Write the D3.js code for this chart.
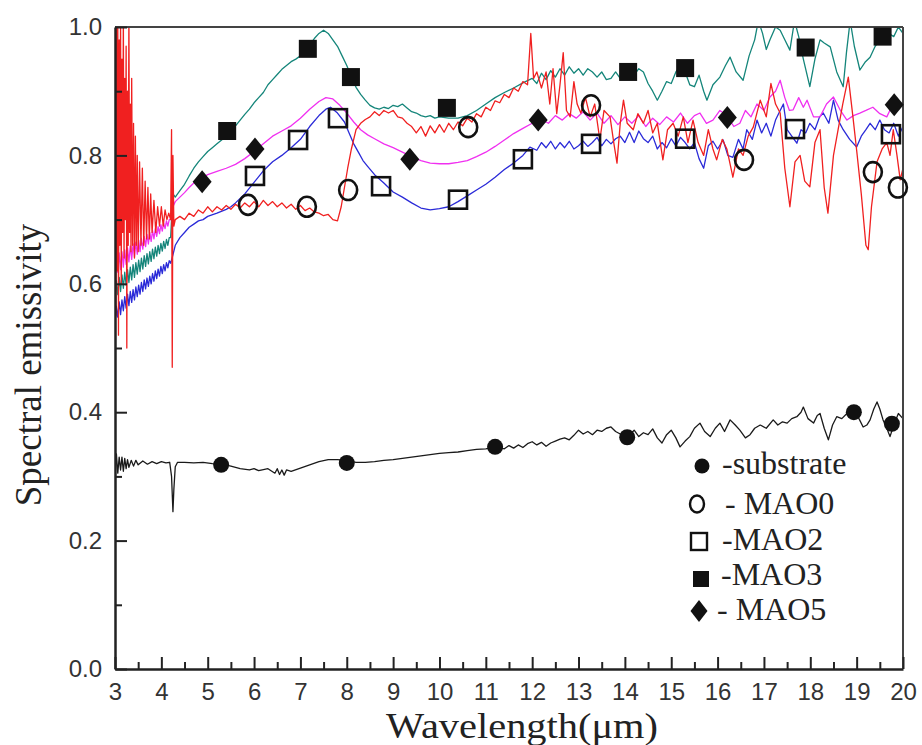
<!DOCTYPE html>
<html><head><meta charset="utf-8">
<script src="https://cdn.jsdelivr.net/npm/d3@7"></script>
<style>body{margin:0;background:#fff;} svg{display:block;}</style>
</head><body>
<svg id="chart" width="922" height="745"></svg>
<script>
// ---------- data ----------
const xTicks = [3,4,5,6,7,8,9,10,11,12,13,14,15,16,17,18,19,20];
const xMinorTicks = [3.5,4.5,5.5,6.5,7.5,8.5,9.5,10.5,11.5,12.5,13.5,14.5,15.5,16.5,17.5,18.5,19.5];
const yTicks = [0.0,0.2,0.4,0.6,0.8,1.0];
const yMinorTicks = [0.1,0.3,0.5,0.7,0.9];
const legendLabels = ["-substrate","- MAO0","-MAO2","-MAO3","- MAO5"];

const substrateCurve = [[3.00,0.30],[3.03,0.335],[3.06,0.305],[3.09,0.33],[3.12,0.31],[3.15,0.33],[3.18,0.308],[3.21,0.328],[3.24,0.312],[3.27,0.326],[3.30,0.314],[3.35,0.325],[3.40,0.316],[3.45,0.325],[3.50,0.318],[3.60,0.324],[3.70,0.319],[3.80,0.323],[3.90,0.320],[4.00,0.323],[4.10,0.321],[4.18,0.322],[4.22,0.30],[4.25,0.245],[4.27,0.28],[4.30,0.315],[4.35,0.322],[4.50,0.322],[4.70,0.321],[4.90,0.322],[5.10,0.320],[5.30,0.319],[5.50,0.316],[5.70,0.312],[5.90,0.310],[6.00,0.312],[6.10,0.309],[6.30,0.312],[6.45,0.305],[6.50,0.312],[6.55,0.303],[6.60,0.310],[6.65,0.302],[6.70,0.310],[6.80,0.308],[7.00,0.313],[7.20,0.318],[7.40,0.323],[7.60,0.326],[7.80,0.326],[8.00,0.325],[8.20,0.322],[8.40,0.322],[8.60,0.323],[8.80,0.325],[9.00,0.326],[9.20,0.328],[9.40,0.330],[9.60,0.332],[9.80,0.334],[10.0,0.336],[10.2,0.337],[10.4,0.338],[10.6,0.340],[10.8,0.342],[11.0,0.343],[11.2,0.346],[11.4,0.343],[11.5,0.348],[11.6,0.344],[11.7,0.349],[11.8,0.345],[11.9,0.351],[12.0,0.354],[12.1,0.349],[12.2,0.353],[12.3,0.347],[12.4,0.352],[12.5,0.355],[12.6,0.358],[12.7,0.360],[12.8,0.357],[12.9,0.364],[13.0,0.372],[13.1,0.366],[13.2,0.370],[13.3,0.365],[13.4,0.372],[13.5,0.370],[13.6,0.375],[13.7,0.377],[13.8,0.370],[13.9,0.366],[14.05,0.361],[14.2,0.372],[14.3,0.362],[14.4,0.368],[14.5,0.365],[14.6,0.374],[14.7,0.360],[14.8,0.352],[14.9,0.365],[15.0,0.372],[15.1,0.360],[15.19,0.346],[15.3,0.355],[15.4,0.362],[15.5,0.375],[15.62,0.383],[15.72,0.370],[15.84,0.362],[15.95,0.375],[16.05,0.383],[16.15,0.370],[16.27,0.388],[16.38,0.380],[16.48,0.372],[16.6,0.360],[16.7,0.365],[16.8,0.375],[16.92,0.380],[17.05,0.375],[17.2,0.388],[17.3,0.380],[17.4,0.385],[17.5,0.383],[17.6,0.390],[17.71,0.393],[17.8,0.400],[17.85,0.408],[17.95,0.390],[18.07,0.383],[18.15,0.395],[18.21,0.398],[18.3,0.375],[18.39,0.357],[18.48,0.380],[18.57,0.393],[18.68,0.390],[18.79,0.398],[18.94,0.400],[19.05,0.390],[19.14,0.377],[19.22,0.380],[19.29,0.388],[19.37,0.405],[19.44,0.416],[19.5,0.405],[19.57,0.388],[19.65,0.375],[19.72,0.362],[19.8,0.380],[19.9,0.398],[20.0,0.390]];

const mao0Curve = [[3.00,0.45],[3.01,1.02],[3.02,0.55],[3.03,1.02],[3.045,0.62],[3.06,1.02],[3.075,0.52],[3.09,0.98],[3.105,0.66],[3.12,1.02],[3.135,0.60],[3.15,0.95],[3.165,0.68],[3.18,1.02],[3.195,0.64],[3.21,0.92],[3.225,0.70],[3.24,0.97],[3.255,0.50],[3.27,0.90],[3.285,0.66],[3.30,1.02],[3.315,0.68],[3.33,0.88],[3.345,0.65],[3.36,0.92],[3.38,0.66],[3.40,0.85],[3.42,0.64],[3.44,0.83],[3.46,0.66],[3.48,0.80],[3.50,0.65],[3.53,0.79],[3.56,0.66],[3.59,0.78],[3.62,0.66],[3.65,0.76],[3.68,0.67],[3.71,0.75],[3.74,0.67],[3.77,0.74],[3.80,0.68],[3.84,0.73],[3.88,0.68],[3.92,0.72],[3.96,0.69],[4.00,0.72],[4.04,0.69],[4.08,0.715],[4.12,0.70],[4.16,0.71],[4.20,0.70],[4.22,0.84],[4.235,0.47],[4.25,0.80],[4.27,0.69],[4.30,0.70],[4.4,0.705],[4.5,0.70],[4.6,0.71],[4.7,0.705],[4.8,0.715],[4.9,0.71],[5.0,0.72],[5.1,0.712],[5.2,0.72],[5.3,0.715],[5.4,0.722],[5.5,0.716],[5.6,0.724],[5.7,0.718],[5.8,0.726],[5.9,0.72],[6.0,0.728],[6.1,0.72],[6.2,0.73],[6.3,0.722],[6.4,0.728],[6.5,0.72],[6.6,0.726],[6.7,0.718],[6.8,0.724],[6.9,0.716],[7.0,0.722],[7.1,0.714],[7.2,0.718],[7.3,0.712],[7.4,0.71],[7.5,0.706],[7.6,0.708],[7.7,0.70],[7.8,0.698],[7.88,0.72],[7.95,0.75],[8.02,0.78],[8.1,0.81],[8.2,0.84],[8.3,0.85],[8.4,0.856],[8.5,0.86],[8.6,0.868],[8.7,0.862],[8.8,0.87],[8.9,0.866],[9.0,0.87],[9.1,0.86],[9.2,0.858],[9.3,0.85],[9.4,0.845],[9.5,0.835],[9.6,0.845],[9.7,0.83],[9.8,0.846],[9.9,0.835],[10.0,0.848],[10.1,0.836],[10.2,0.85],[10.3,0.84],[10.4,0.852],[10.5,0.846],[10.6,0.858],[10.7,0.852],[10.8,0.865],[10.9,0.86],[11.0,0.875],[11.1,0.87],[11.2,0.885],[11.3,0.882],[11.4,0.895],[11.5,0.89],[11.6,0.905],[11.7,0.90],[11.8,0.915],[11.9,0.91],[11.97,0.99],[12.03,0.92],[12.1,0.93],[12.2,0.905],[12.3,0.93],[12.38,0.88],[12.45,0.935],[12.53,0.865],[12.6,0.91],[12.67,0.96],[12.74,0.87],[12.82,0.86],[12.9,0.915],[12.97,0.88],[13.05,0.866],[13.15,0.89],[13.25,0.86],[13.35,0.88],[13.46,0.824],[13.55,0.87],[13.68,0.86],[13.76,0.82],[13.83,0.788],[13.9,0.85],[13.97,0.886],[14.05,0.85],[14.18,0.84],[14.28,0.865],[14.4,0.85],[14.5,0.87],[14.6,0.835],[14.7,0.85],[14.82,0.793],[14.92,0.84],[15.04,0.85],[15.15,0.83],[15.26,0.86],[15.36,0.82],[15.47,0.855],[15.58,0.82],[15.7,0.80],[15.8,0.84],[15.9,0.81],[15.98,0.793],[16.1,0.825],[16.2,0.81],[16.33,0.766],[16.45,0.81],[16.55,0.80],[16.66,0.83],[16.77,0.844],[16.92,0.886],[17.05,0.86],[17.15,0.912],[17.25,0.88],[17.35,0.866],[17.45,0.78],[17.56,0.72],[17.67,0.79],[17.78,0.80],[17.88,0.76],[17.99,0.751],[18.1,0.82],[18.21,0.84],[18.3,0.75],[18.38,0.71],[18.5,0.80],[18.6,0.84],[18.7,0.88],[18.82,0.922],[18.92,0.86],[19.0,0.808],[19.1,0.74],[19.2,0.66],[19.25,0.653],[19.32,0.72],[19.44,0.79],[19.55,0.81],[19.65,0.82],[19.72,0.80],[19.79,0.84],[19.87,0.80],[19.94,0.762],[20.0,0.78]];

const mao2Curve = [[3.00,0.540],[3.03,0.565],[3.06,0.548],[3.09,0.572],[3.12,0.552],[3.15,0.575],[3.18,0.558],[3.21,0.58],[3.24,0.562],[3.27,0.584],[3.30,0.566],[3.33,0.588],[3.36,0.571],[3.39,0.591],[3.42,0.575],[3.45,0.595],[3.48,0.58],[3.51,0.598],[3.54,0.584],[3.57,0.602],[3.60,0.588],[3.63,0.606],[3.66,0.592],[3.69,0.609],[3.72,0.596],[3.75,0.612],[3.78,0.60],[3.81,0.616],[3.84,0.604],[3.87,0.62],[3.90,0.608],[3.93,0.623],[3.96,0.612],[3.99,0.627],[4.02,0.616],[4.05,0.63],[4.08,0.62],[4.11,0.633],[4.14,0.625],[4.17,0.636],[4.20,0.632],[4.25,0.645],[4.30,0.66],[4.4,0.672],[4.5,0.68],[4.6,0.688],[4.7,0.693],[4.8,0.698],[4.9,0.70],[5.0,0.705],[5.2,0.71],[5.4,0.716],[5.5,0.72],[5.6,0.726],[5.8,0.74],[6.0,0.758],[6.2,0.776],[6.4,0.79],[6.6,0.80],[6.8,0.812],[7.0,0.825],[7.2,0.845],[7.4,0.862],[7.55,0.872],[7.65,0.875],[7.8,0.866],[7.95,0.852],[8.05,0.835],[8.15,0.818],[8.25,0.805],[8.35,0.792],[8.45,0.783],[8.6,0.77],[8.8,0.757],[9.0,0.743],[9.2,0.735],[9.4,0.726],[9.6,0.718],[9.8,0.715],[10.0,0.717],[10.2,0.72],[10.4,0.728],[10.6,0.737],[10.8,0.746],[11.0,0.755],[11.2,0.766],[11.4,0.778],[11.6,0.788],[11.8,0.80],[11.95,0.813],[12.1,0.808],[12.2,0.82],[12.3,0.812],[12.4,0.822],[12.5,0.81],[12.6,0.82],[12.7,0.812],[12.8,0.822],[12.9,0.81],[13.0,0.815],[13.1,0.822],[13.2,0.814],[13.3,0.82],[13.4,0.828],[13.5,0.815],[13.6,0.825],[13.7,0.818],[13.8,0.826],[13.9,0.83],[14.0,0.82],[14.1,0.836],[14.2,0.82],[14.3,0.838],[14.4,0.826],[14.5,0.82],[14.6,0.83],[14.7,0.81],[14.8,0.82],[14.9,0.812],[15.0,0.826],[15.1,0.815],[15.2,0.828],[15.3,0.82],[15.4,0.81],[15.5,0.82],[15.6,0.795],[15.7,0.78],[15.8,0.815],[15.9,0.822],[16.0,0.81],[16.12,0.824],[16.22,0.80],[16.33,0.797],[16.45,0.825],[16.55,0.81],[16.63,0.84],[16.75,0.825],[16.85,0.855],[16.95,0.835],[17.05,0.85],[17.15,0.83],[17.25,0.855],[17.35,0.87],[17.42,0.88],[17.5,0.84],[17.6,0.83],[17.71,0.819],[17.8,0.84],[17.9,0.835],[17.99,0.85],[18.1,0.84],[18.2,0.86],[18.28,0.866],[18.4,0.85],[18.5,0.886],[18.6,0.855],[18.71,0.84],[18.85,0.825],[19.0,0.813],[19.1,0.83],[19.2,0.84],[19.29,0.85],[19.4,0.84],[19.5,0.855],[19.6,0.84],[19.7,0.835],[19.8,0.85],[19.9,0.83],[20.0,0.845]];

const mao3Curve = [[3.00,0.575],[3.03,0.605],[3.06,0.583],[3.09,0.61],[3.12,0.588],[3.15,0.614],[3.18,0.593],[3.21,0.618],[3.24,0.598],[3.27,0.622],[3.30,0.602],[3.33,0.626],[3.36,0.606],[3.39,0.63],[3.42,0.61],[3.45,0.633],[3.48,0.615],[3.51,0.637],[3.54,0.619],[3.57,0.64],[3.60,0.623],[3.63,0.644],[3.66,0.627],[3.69,0.647],[3.72,0.631],[3.75,0.65],[3.78,0.635],[3.81,0.654],[3.84,0.639],[3.87,0.657],[3.90,0.643],[3.93,0.66],[3.96,0.647],[3.99,0.663],[4.02,0.651],[4.05,0.666],[4.08,0.655],[4.11,0.669],[4.14,0.66],[4.17,0.672],[4.20,0.672],[4.25,0.74],[4.30,0.735],[4.4,0.745],[4.5,0.755],[4.6,0.768],[4.7,0.78],[4.8,0.79],[4.9,0.798],[5.0,0.806],[5.1,0.812],[5.2,0.818],[5.3,0.824],[5.4,0.83],[5.5,0.838],[5.6,0.846],[5.7,0.855],[5.8,0.864],[5.9,0.872],[6.0,0.882],[6.1,0.89],[6.2,0.898],[6.3,0.91],[6.4,0.918],[6.5,0.926],[6.6,0.934],[6.7,0.94],[6.8,0.946],[6.9,0.95],[7.0,0.955],[7.1,0.962],[7.2,0.972],[7.3,0.982],[7.4,0.99],[7.5,0.995],[7.6,0.99],[7.7,0.98],[7.8,0.97],[7.9,0.955],[8.0,0.94],[8.1,0.922],[8.2,0.906],[8.3,0.895],[8.4,0.886],[8.5,0.878],[8.6,0.874],[8.7,0.872],[8.8,0.875],[8.9,0.873],[9.0,0.878],[9.1,0.876],[9.2,0.88],[9.3,0.874],[9.4,0.868],[9.5,0.866],[9.6,0.862],[9.7,0.86],[9.8,0.862],[9.9,0.858],[10.0,0.86],[10.2,0.858],[10.4,0.858],[10.6,0.862],[10.8,0.87],[11.0,0.88],[11.2,0.89],[11.4,0.898],[11.6,0.905],[11.8,0.913],[12.0,0.92],[12.1,0.912],[12.2,0.928],[12.3,0.918],[12.4,0.932],[12.5,0.922],[12.6,0.935],[12.7,0.925],[12.8,0.938],[12.9,0.928],[13.0,0.935],[13.1,0.925],[13.2,0.935],[13.3,0.93],[13.4,0.922],[13.5,0.93],[13.6,0.918],[13.7,0.92],[13.8,0.93],[13.9,0.92],[14.0,0.93],[14.1,0.94],[14.2,0.925],[14.3,0.935],[14.4,0.93],[14.5,0.912],[14.6,0.90],[14.7,0.886],[14.8,0.90],[14.9,0.915],[15.0,0.912],[15.1,0.93],[15.2,0.94],[15.3,0.93],[15.4,0.91],[15.5,0.907],[15.6,0.925],[15.7,0.90],[15.77,0.886],[15.9,0.91],[16.05,0.922],[16.17,0.94],[16.27,0.953],[16.4,0.93],[16.55,0.917],[16.68,0.955],[16.8,0.98],[16.88,1.01],[16.97,0.99],[17.05,0.965],[17.13,0.98],[17.25,1.0],[17.35,0.995],[17.45,0.98],[17.56,0.964],[17.66,1.01],[17.75,0.985],[17.85,0.95],[17.99,0.907],[18.1,0.95],[18.21,0.98],[18.3,0.975],[18.43,0.969],[18.57,0.93],[18.71,0.907],[18.78,0.96],[18.86,1.01],[18.95,0.97],[19.07,0.933],[19.18,0.945],[19.29,0.953],[19.4,0.97],[19.5,0.98],[19.6,0.975],[19.7,0.99],[19.8,0.985],[19.9,1.0],[20.0,0.99]];

const mao5Curve = [[3.00,0.612],[3.03,0.645],[3.06,0.618],[3.09,0.648],[3.12,0.622],[3.15,0.65],[3.18,0.626],[3.21,0.653],[3.24,0.63],[3.27,0.656],[3.30,0.634],[3.33,0.659],[3.36,0.638],[3.39,0.662],[3.42,0.642],[3.45,0.665],[3.48,0.646],[3.51,0.668],[3.54,0.65],[3.57,0.671],[3.60,0.654],[3.63,0.674],[3.66,0.658],[3.69,0.677],[3.72,0.662],[3.75,0.68],[3.78,0.666],[3.81,0.683],[3.84,0.67],[3.87,0.686],[3.90,0.674],[3.93,0.689],[3.96,0.678],[3.99,0.692],[4.02,0.682],[4.05,0.695],[4.08,0.686],[4.11,0.698],[4.14,0.69],[4.17,0.70],[4.20,0.70],[4.25,0.72],[4.30,0.728],[4.4,0.735],[4.5,0.742],[4.6,0.75],[4.7,0.757],[4.8,0.762],[4.9,0.766],[5.0,0.77],[5.2,0.775],[5.4,0.78],[5.6,0.786],[5.8,0.795],[6.0,0.806],[6.2,0.818],[6.4,0.83],[6.6,0.838],[6.8,0.846],[7.0,0.858],[7.2,0.872],[7.4,0.884],[7.55,0.89],[7.7,0.888],[7.85,0.878],[8.0,0.866],[8.15,0.852],[8.3,0.84],[8.45,0.832],[8.6,0.826],[8.8,0.818],[9.0,0.812],[9.2,0.805],[9.4,0.798],[9.6,0.792],[9.8,0.788],[10.0,0.787],[10.2,0.787],[10.4,0.789],[10.6,0.792],[10.8,0.798],[11.0,0.805],[11.2,0.814],[11.4,0.824],[11.6,0.834],[11.8,0.842],[12.0,0.85],[12.2,0.856],[12.35,0.85],[12.5,0.862],[12.65,0.855],[12.8,0.865],[12.95,0.858],[13.1,0.868],[13.25,0.855],[13.4,0.866],[13.55,0.85],[13.7,0.862],[13.85,0.848],[14.0,0.86],[14.15,0.85],[14.3,0.862],[14.45,0.845],[14.6,0.858],[14.75,0.848],[14.9,0.86],[15.05,0.852],[15.2,0.866],[15.35,0.85],[15.5,0.862],[15.62,0.866],[15.76,0.85],[15.9,0.855],[16.05,0.87],[16.2,0.862],[16.35,0.845],[16.48,0.85],[16.6,0.87],[16.72,0.86],[16.85,0.88],[17.0,0.87],[17.13,0.891],[17.25,0.90],[17.35,0.917],[17.45,0.89],[17.55,0.87],[17.63,0.871],[17.75,0.89],[17.85,0.875],[17.93,0.886],[18.07,0.86],[18.21,0.86],[18.35,0.88],[18.5,0.891],[18.65,0.87],[18.79,0.855],[18.93,0.862],[19.07,0.866],[19.2,0.87],[19.35,0.875],[19.5,0.865],[19.65,0.86],[19.75,0.875],[19.87,0.886],[20.0,0.875]];

// symbol positions
const substrateMarks = [[5.29,0.318],[8.0,0.321],[11.2,0.346],[14.05,0.361],[18.94,0.40],[19.76,0.382]];
const mao0Marks = [[5.87,0.723],[7.14,0.72],[8.03,0.746],[10.62,0.844],[13.27,0.878],[16.57,0.793],[19.35,0.774],[19.89,0.75]];
const mao2Marks = [[6.02,0.768],[6.95,0.824],[7.81,0.858],[8.74,0.752],[10.4,0.731],[11.8,0.794],[13.27,0.818],[15.3,0.826],[17.67,0.841],[19.74,0.833]];
const mao3Marks = [[5.42,0.838],[7.16,0.966],[8.09,0.922],[10.16,0.874],[14.07,0.93],[15.3,0.936],[17.9,0.968],[19.56,0.985]];
const mao5Marks = [[4.88,0.759],[6.02,0.81],[9.36,0.794],[12.13,0.855],[16.21,0.859],[19.81,0.879]];

// ---------- drawing ----------
const svg = d3.select("#chart");
const x = d3.scaleLinear().domain([3,20]).range([115,903]);
const y = d3.scaleLinear().domain([0,1]).range([669,27]);

svg.append("defs").append("clipPath").attr("id","plotclip")
  .append("rect").attr("x",x(3)).attr("y",y(1)).attr("width",x(20)-x(3)).attr("height",y(0)-y(1));

const line = d3.line().x(d=>x(d[0])).y(d=>y(d[1]));
const lines = svg.append("g").attr("clip-path","url(#plotclip)").attr("fill","none");
const curves = [
  {data: mao2Curve, color:"#2a2ad8"},
  {data: mao3Curve, color:"#14857a"},
  {data: mao5Curve, color:"#f030f0"},
  {data: mao0Curve, color:"#f02020"},
  {data: substrateCurve, color:"#1a1a1a"}
];
curves.forEach(c=>{
  lines.append("path").attr("d", line(c.data)).attr("stroke", c.color)
    .attr("stroke-width",1.3).attr("stroke-linejoin","round");
});

// frame
const frame = svg.append("g");
frame.append("line").attr("x1",x(3)).attr("x2",x(20)).attr("y1",y(1)).attr("y2",y(1)).attr("stroke","#444").attr("stroke-width",2);
frame.append("line").attr("x1",x(20)).attr("x2",x(20)).attr("y1",y(1)).attr("y2",y(0)).attr("stroke","#444").attr("stroke-width",2);

// axes
const axisFont = "'Liberation Sans', Arial, sans-serif";
svg.append("g").attr("transform",`translate(0,${y(0)})`)
  .call(d3.axisBottom(x).tickValues(xTicks).tickFormat(d3.format("d")).tickSizeInner(-12).tickSizeOuter(0).tickPadding(14));
svg.append("g").attr("transform",`translate(0,${y(0)})`)
  .call(d3.axisBottom(x).tickValues(xMinorTicks).tickFormat("").tickSizeInner(-7).tickSizeOuter(0))
  .select(".domain").remove();
svg.append("g").attr("transform",`translate(${x(3)},0)`)
  .call(d3.axisLeft(y).tickValues(yTicks).tickFormat(d3.format(".1f")).tickSizeInner(-12).tickSizeOuter(0).tickPadding(13));
svg.append("g").attr("transform",`translate(${x(3)},0)`)
  .call(d3.axisLeft(y).tickValues(yMinorTicks).tickFormat("").tickSizeInner(-7).tickSizeOuter(0))
  .select(".domain").remove();
svg.selectAll(".domain").attr("stroke","#222").attr("stroke-width",2.5);
svg.selectAll(".tick line").attr("stroke","#222").attr("stroke-width",2);
svg.selectAll(".tick text").attr("font-family",axisFont).attr("font-size",24).attr("fill","#333");

// titles
const serif = "'Liberation Serif','Times New Roman',serif";
svg.append("text").attr("x",522).attr("y",737.5).attr("text-anchor","middle")
  .attr("font-family",serif).attr("font-size",35).attr("fill","#222")
  .attr("textLength",272).attr("lengthAdjust","spacingAndGlyphs")
  .text("Wavelength(μm)");
svg.append("text").attr("transform","translate(41,365) rotate(-90)").attr("text-anchor","middle")
  .attr("font-family",serif).attr("font-size",37).attr("fill","#222")
  .text("Spectral emissivity");

// markers
const mk = svg.append("g");
mk.selectAll("circle.sub").data(substrateMarks).join("circle").attr("class","sub")
  .attr("cx",d=>x(d[0])).attr("cy",d=>y(d[1])).attr("r",8).attr("fill","#111");
mk.selectAll("ellipse.m0").data(mao0Marks).join("ellipse").attr("class","m0")
  .attr("cx",d=>x(d[0])).attr("cy",d=>y(d[1])).attr("rx",9).attr("ry",10)
  .attr("fill","none").attr("stroke","#111").attr("stroke-width",2.6);
mk.selectAll("rect.m2").data(mao2Marks).join("rect").attr("class","m2")
  .attr("x",d=>x(d[0])-9).attr("y",d=>y(d[1])-9).attr("width",18).attr("height",18)
  .attr("fill","none").attr("stroke","#111").attr("stroke-width",2.6);
mk.selectAll("rect.m3").data(mao3Marks).join("rect").attr("class","m3")
  .attr("x",d=>x(d[0])-9).attr("y",d=>y(d[1])-9).attr("width",18).attr("height",18)
  .attr("fill","#111");
const diamond = (cx,cy,w,h)=>`M${cx},${cy-h}L${cx+w},${cy}L${cx},${cy+h}L${cx-w},${cy}Z`;
mk.selectAll("path.m5").data(mao5Marks).join("path").attr("class","m5")
  .attr("d",d=>diamond(x(d[0]),y(d[1]),9.5,11.5)).attr("fill","#111");

// legend
const lg = svg.append("g");
lg.append("circle").attr("cx",702).attr("cy",466).attr("r",7.5).attr("fill","#111");
lg.append("ellipse").attr("cx",697).attr("cy",504).attr("rx",7).attr("ry",8.5).attr("fill","none").attr("stroke","#111").attr("stroke-width",2.4);
lg.append("rect").attr("x",691).attr("y",533).attr("width",16).attr("height",17).attr("fill","none").attr("stroke","#111").attr("stroke-width",2.4);
lg.append("rect").attr("x",693).attr("y",571).attr("width",16).attr("height",16).attr("fill","#111");
lg.append("path").attr("d",diamond(699,611,8.5,11)).attr("fill","#111");
const legendX = [722,725,722,721,717];
const legendY = [474,514,550,585,620];
lg.selectAll("text").data(legendLabels).join("text")
  .attr("x",(d,i)=>legendX[i]).attr("y",(d,i)=>legendY[i])
  .attr("font-family",serif).attr("font-size",32).attr("fill","#222").text(d=>d);
</script>
</body></html>
